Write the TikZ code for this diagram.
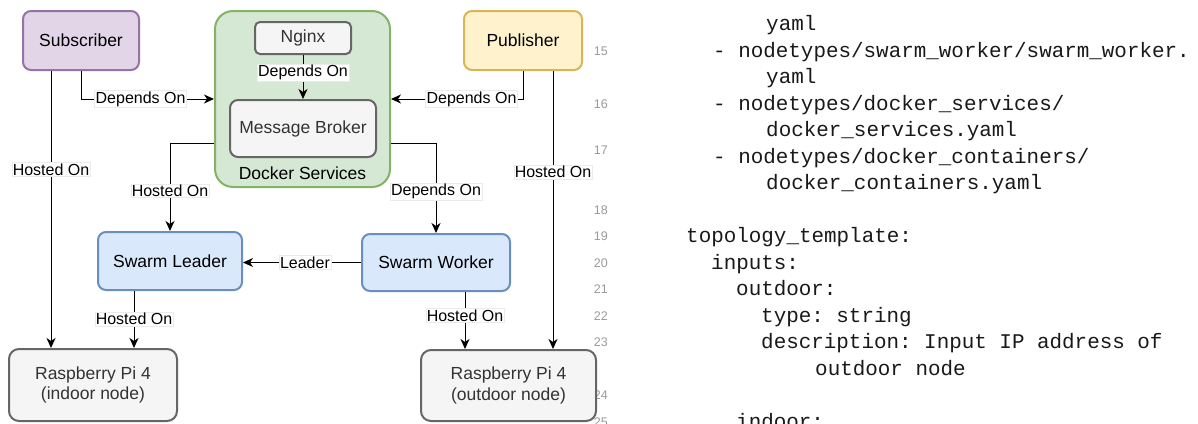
\documentclass[tikz,border=0pt]{standalone}
\usepackage{fontspec}
\usetikzlibrary{arrows.meta,calc}
\newfontfamily\diafont{Liberation Sans}
\newfontfamily\codefont{Liberation Mono}
\definecolor{subfill}{HTML}{E1D5E7}
\definecolor{subline}{HTML}{9673A6}
\definecolor{pubfill}{HTML}{FFF2CC}
\definecolor{publine}{HTML}{D6B656}
\definecolor{dockfill}{HTML}{D5E8D4}
\definecolor{dockline}{HTML}{82B366}
\definecolor{swarmfill}{HTML}{DAE8FC}
\definecolor{swarmline}{HTML}{6C8EBF}
\definecolor{greyfill}{HTML}{F5F5F5}
\definecolor{greyline}{HTML}{666666}
\definecolor{greytext}{HTML}{333333}
\definecolor{numgray}{HTML}{9A9A9A}

\begin{document}
\begin{tikzpicture}[x=1pt,y=-1pt,
	box/.style={draw,line width=2pt,rounded corners=8pt,align=center,inner sep=0pt,font=\diafont\fontsize{17.5}{20.5}\selectfont},
	greybox/.style={box,fill=greyfill,draw=greyline,text=greytext},
	lbl/.style={fill=white,draw=black!8,line width=0.4pt,inner sep=1pt,font=\diafont\fontsize{16}{18}\selectfont},
	conn/.style={draw=black,line width=1pt,-{Stealth[length=10pt,width=9pt,inset=3pt]}},
	code/.style={anchor=base west,inner sep=0pt,text=black!90,font=\codefont\fontsize{20.9}{24}\selectfont\frenchspacing},
	lnum/.style={anchor=base east,inner sep=0pt,text=numgray,font=\diafont\fontsize{12.5}{14}\selectfont}]
	\useasboundingbox (0,0) rectangle (1198,423);
	\node [code] (c0) at (766,30.5) {yaml};
	\node [code] (c1) at (713,57) {- nodetypes/swarm\_worker/swarm\_worker.};
	\node [code] (c2) at (766,83.6) {yaml};
	\node [code] (c3) at (713,110.1) {- nodetypes/docker\_services/};
	\node [code] (c4) at (766,136.6) {docker\_services.yaml};
	\node [code] (c5) at (713,163.2) {- nodetypes/docker\_containers/};
	\node [code] (c6) at (766,189.7) {docker\_containers.yaml};
	\node [code] (c8) at (686,242.7) {topology\_template:};
	\node [code] (c9) at (711,269.3) {inputs:};
	\node [code] (c10) at (736,295.8) {outdoor:};
	\node [code] (c11) at (761,322.3) {type: string};
	\node [code] (c12) at (761,348.9) {description: Input IP address of};
	\node [code] (c13) at (815,375.4) {outdoor node};
	\node [code] (c15) at (736,428.5) {indoor:};
	\node [lnum] (n15) at (608,55) {15};
	\node [lnum] (n16) at (608,108) {16};
	\node [lnum] (n17) at (608,154.5) {17};
	\node [lnum] (n18) at (608,214) {18};
	\node [lnum] (n19) at (608,240.7) {19};
	\node [lnum] (n20) at (608,267.3) {20};
	\node [lnum] (n21) at (608,293.8) {21};
	\node [lnum] (n22) at (608,320.3) {22};
	\node [lnum] (n23) at (608,346.9) {23};
	\node [lnum] (n24) at (608,399.9) {24};
	\node [lnum] (n25) at (608,426.5) {25};
	\node [box,fill=dockfill,draw=dockline,rounded corners=18pt,minimum width=175pt,minimum height=176pt] (docker) at (302.5,99) {};
	\node [font=\diafont\fontsize{17.5}{20.5}\selectfont,inner sep=0pt] (dslbl) at (302.5,173) {Docker Services};
	\node [greybox,rounded corners=5pt,minimum width=96pt,minimum height=32pt] (nginx) at (303,38) {Nginx};
	\node [greybox,minimum width=146pt,minimum height=57pt] (broker) at (303,128.5) {Message Broker};
	\node [box,fill=subfill,draw=subline,minimum width=116pt,minimum height=59pt] (sub) at (81,40.5) {Subscriber};
	\node [box,fill=pubfill,draw=publine,minimum width=118pt,minimum height=59pt] (pub) at (523,40.5) {Publisher};
	\node [box,fill=swarmfill,draw=swarmline,minimum width=144pt,minimum height=58pt] (leader) at (170,261) {Swarm Leader};
	\node [box,fill=swarmfill,draw=swarmline,minimum width=148pt,minimum height=57pt] (worker) at (436,262.5) {Swarm Worker};
	\node [greybox,rounded corners=10pt,minimum width=168pt,minimum height=72pt] (indoor) at (93,385) {Raspberry Pi 4\\(indoor node)};
	\node [greybox,rounded corners=10pt,minimum width=175pt,minimum height=71pt] (outdoor) at (508.5,385.5) {Raspberry Pi 4\\(outdoor node)};
	\coordinate (subhost) at ([xshift=-30pt]sub.south);
	\coordinate (pubhost) at ([xshift=30pt]pub.south);
	\coordinate (leadhost) at ([xshift=-36pt]leader.south);
	\coordinate (workhost) at ([xshift=29pt]worker.south);
	\coordinate (dleft) at ($(docker.west)!0.5!(docker.south west)$);
	\coordinate (dright) at ($(docker.east)!0.5!(docker.south east)$);
	\draw [conn] (nginx.south) -- node [lbl,pos=0.4] {Depends On} (broker.north);
	\draw [conn] (sub.south) |- node [lbl,pos=0.724] {Depends On} (docker.west);
	\draw [conn] (pub.south) |- node [lbl,pos=0.695] {Depends On} (docker.east);
	\draw [conn] (dleft) -| node [lbl,pos=0.77] {Hosted On} (leader.north);
	\draw [conn] (dright) -| node [lbl,pos=0.77] {Depends On} (worker.north);
	\draw [conn] (worker.west) -- node [lbl,pos=0.475] {Leader} (worker.west -| leader.east);
	\draw [conn] (subhost) -- node [lbl,pos=0.355] {Hosted On} (subhost |- indoor.north);
	\draw [conn] (pubhost) -- node [lbl,pos=0.364] {Hosted On} (pubhost |- outdoor.north);
	\draw [conn] (leadhost) -- node [lbl,pos=0.49] {Hosted On} (leadhost |- indoor.north);
	\draw [conn] (workhost) -- node [lbl,pos=0.41] {Hosted On} (workhost |- outdoor.north);
\end{tikzpicture}
\end{document}
